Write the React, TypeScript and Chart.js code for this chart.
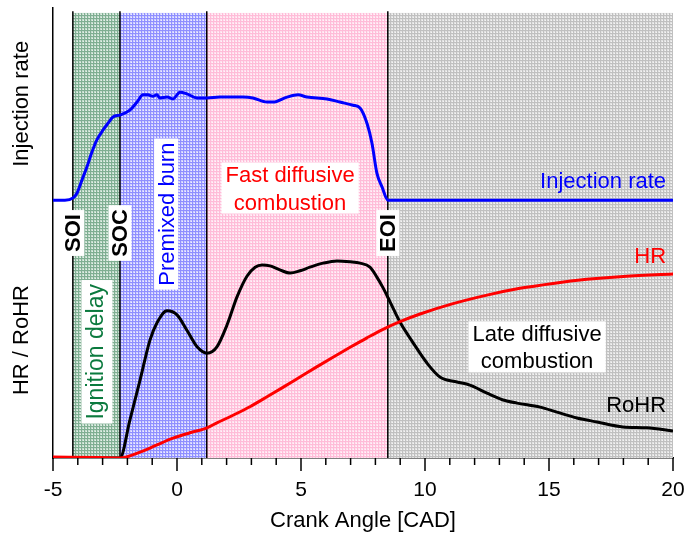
import React, { useEffect, useRef } from 'react';
import { Chart, registerables } from 'chart.js';

Chart.register(...registerables);

// ---- data -----------------------------------------------------------------
// crank angle range and tick spacing
const xMin = -5;
const xMax = 20;
const xMajorStep = 5;
const xMinorStep = 1;

// combustion phase boundaries [CAD]: SOI, SOC, end of premixed burn, EOI, end
const phaseBounds = [-4.2, -2.3, 1.2, 8.5, 20];
// event lines drawn as vertical markers
const eventCad = [-4.2, -2.3, 1.2, 8.5];

// injection rate (arbitrary units)
const injCad = [
  -5.0, -4.52, -4.19, -4.03, -3.83, -3.63, -3.43, -3.23, -2.98, -2.78, -2.58, -2.3, -1.9, -1.61,
  -1.37, -1.17, -0.97, -0.81, -0.69, -0.4, -0.16, 0.12, 0.4, 0.81, 1.21, 1.73, 2.66, 3.06, 3.63,
  3.87, 4.44, 4.88, 5.24, 6.05, 6.57, 7.1, 7.38, 7.66, 7.86, 8.06, 8.27, 8.51, 20.0,
];
const injRate = [
  57.3, 57.3, 57.8, 58.9, 61.8, 64.7, 68.0, 70.7, 72.9, 74.4, 75.8, 76.2, 77.3, 79.1,
  80.7, 80.7, 80.4, 80.7, 80.0, 80.2, 79.8, 81.3, 80.9, 80.0, 80.0, 80.2, 80.2, 80.0, 79.1,
  79.1, 80.2, 80.7, 80.2, 79.8, 79.1, 78.4, 77.8, 74.4, 70.0, 63.3, 60.2, 57.3, 57.3,
];

// rate of heat release (arbitrary units)
const rohrCad = [
  -5.0, -2.3, -1.9, -1.49, -1.09, -0.81, -0.4, 0.0, 0.4, 0.81, 1.21, 1.61, 2.02, 2.42, 2.82,
  3.15, 3.43, 3.75, 4.15, 4.56, 4.96, 5.36, 5.89, 6.45, 6.98, 7.38, 7.78, 8.06, 8.31, 8.59,
  8.99, 9.52, 10.08, 10.6, 11.29, 11.81, 12.5, 13.15, 13.71, 14.64, 15.32, 16.13, 16.94,
  17.98, 18.95, 20.0,
];
const rohrVal = [
  0, 0, 8.4, 17.3, 26.2, 30.0, 32.7, 31.8, 28.4, 24.7, 23.3, 24.7, 29.6, 35.8, 40.4,
  42.4, 42.9, 42.7, 41.8, 41.1, 41.6, 42.4, 43.3, 43.8, 43.6, 43.3, 42.4, 40.2, 37.8, 34.7,
  30.2, 25.6, 21.1, 18.0, 16.9, 16.2, 14.4, 12.9, 12.2, 11.3, 10.2, 8.9, 8.0,
  6.9, 6.7, 6.0,
];

// cumulative heat release (arbitrary units)
const hrCad = [
  -5.0, -3.1, -2.3, -1.49, -0.81, -0.16, 0.52, 1.21, 1.61, 2.26, 2.94, 3.63, 4.27, 4.96,
  5.65, 6.29, 6.98, 7.66, 8.31, 8.99, 9.8, 11.13, 12.5, 13.83, 15.16, 16.53, 17.86, 20.0,
];
const hrVal = [
  0.2, 0.1, 0.0, 1.3, 2.9, 4.4, 5.6, 6.7, 7.8, 9.5, 11.4, 13.6, 15.7, 18.0,
  20.3, 22.4, 24.6, 26.7, 28.6, 30.3, 32.0, 34.3, 36.2, 37.7, 38.8, 39.7, 40.3, 40.9,
];

// ---- styling ----------------------------------------------------------------
const FONT = '"Liberation Sans", Arial, Helvetica, sans-serif';
const TEXT_SIZE = 22;
const TICK_SIZE = 21;

const shadeTop = 98.9;
const eventLineTop = 99.3;

const phaseFills = [
  { bg: '#c4ddcd', fg: '#7fae92', dot: '#e6f0ea' },
  { bg: '#cfcfff', fg: '#8f8fff', dot: '#eeeeff' },
  { bg: '#ffe0ee', fg: '#ffbcd8', dot: '#fff4f9' },
  { bg: '#e2e2e2', fg: '#c0c0c0', dot: '#f4f4f4' },
];

type Label = {
  lines: string[];
  cad: number;
  val: number;
  color: string;
  bold?: boolean;
  rotate?: boolean;
  box?: boolean;
  size?: number;
};

const phaseLabels: Label[] = [
  { lines: ['SOI'], cad: -4.2, val: 50, color: '#000', bold: true, rotate: true, box: true },
  { lines: ['SOC'], cad: -2.3, val: 50, color: '#000', bold: true, rotate: true, box: true },
  { lines: ['EOI'], cad: 8.5, val: 50, color: '#000', bold: true, rotate: true, box: true },
  { lines: ['Ignition delay'], cad: -3.23, val: 23.6, color: '#0b7a3e', rotate: true, box: true, size: 23 },
  { lines: ['Premixed burn'], cad: -0.44, val: 54.2, color: '#0000ff', rotate: true, box: true },
  { lines: ['Fast diffusive', 'combustion'], cad: 4.56, val: 60, color: '#ff0000', box: true },
  { lines: ['Late diffusive', 'combustion'], cad: 14.52, val: 24.7, color: '#000', box: true },
];

const seriesLabels = [
  { text: 'Injection rate', val: 61.3, color: '#0000ff' },
  { text: 'HR', val: 44.7, color: '#ff0000' },
  { text: 'RoHR', val: 11.6, color: '#000' },
];
const seriesLabelCad = 19.72;

const axisTitles = [
  { text: 'Injection rate', val: 78.7 },
  { text: 'HR / RoHR', val: 26.2 },
];

function drawLabel(
  ctx: CanvasRenderingContext2D,
  lab: Label,
  cx: number,
  cy: number
) {
  const size = lab.size ?? TEXT_SIZE;
  ctx.save();
  ctx.font = `${lab.bold ? 'bold ' : ''}${size}px ${FONT}`;
  ctx.translate(cx, cy);
  if (lab.rotate) ctx.rotate(-Math.PI / 2);
  const gap = size * 1.23;
  const metrics = lab.lines.map((l) => ctx.measureText(l));
  const maxW = Math.max(...metrics.map((m) => m.width));
  const asc = metrics[0].actualBoundingBoxAscent;
  const desc = metrics[metrics.length - 1].actualBoundingBoxDescent;
  const total = asc + (lab.lines.length - 1) * gap + desc;
  const top = -total / 2;
  if (lab.box) {
    const padX = 4;
    const padY = 4;
    ctx.fillStyle = '#ffffff';
    ctx.fillRect(-maxW / 2 - padX, top - padY, maxW + 2 * padX, total + 2 * padY);
  }
  ctx.fillStyle = lab.color;
  ctx.textAlign = 'center';
  ctx.textBaseline = 'alphabetic';
  lab.lines.forEach((l, i) => {
    ctx.fillText(l, 0, top + asc + i * gap);
  });
  ctx.restore();
}

const phasePlugin = {
  id: 'combustionPhases',
  beforeDatasetsDraw(chart: any) {
    const { ctx, scales } = chart;
    const x = scales.x;
    const y = scales.y;
    const yTop = y.getPixelForValue(shadeTop);
    const yBot = y.getPixelForValue(0);
    ctx.save();
    for (let i = 0; i < phaseBounds.length - 1; i++) {
      const fill = phaseFills[i];
      const tile = document.createElement('canvas');
      tile.width = 3;
      tile.height = 3;
      const g = tile.getContext('2d')!;
      g.fillStyle = fill.bg;
      g.fillRect(0, 0, 3, 3);
      g.fillStyle = fill.fg;
      g.fillRect(0, 0, 3, 1);
      g.fillRect(0, 0, 1, 3);
      g.fillStyle = fill.dot;
      g.fillRect(2, 2, 1, 1);
      const pattern = ctx.createPattern(tile, 'repeat');
      const x0 = x.getPixelForValue(phaseBounds[i]);
      const x1 = x.getPixelForValue(phaseBounds[i + 1]);
      ctx.fillStyle = pattern;
      ctx.fillRect(x0, yTop, x1 - x0, yBot - yTop);
    }
    // event markers
    ctx.strokeStyle = '#000';
    ctx.lineWidth = 1.5;
    const lt = y.getPixelForValue(eventLineTop);
    for (const c of eventCad) {
      const px = x.getPixelForValue(c);
      ctx.beginPath();
      ctx.moveTo(px, lt);
      ctx.lineTo(px, yBot);
      ctx.stroke();
    }
    ctx.restore();
  },
  afterDatasetsDraw(chart: any) {
    const { ctx, scales } = chart;
    const x = scales.x;
    const y = scales.y;
    for (const lab of phaseLabels) {
      drawLabel(ctx, lab, x.getPixelForValue(lab.cad), y.getPixelForValue(lab.val));
    }
    ctx.save();
    ctx.font = `${TEXT_SIZE}px ${FONT}`;
    ctx.textAlign = 'right';
    ctx.textBaseline = 'middle';
    const rx = x.getPixelForValue(seriesLabelCad);
    for (const s of seriesLabels) {
      ctx.fillStyle = s.color;
      ctx.fillText(s.text, rx, y.getPixelForValue(s.val));
    }
    ctx.restore();
  },
  afterDraw(chart: any) {
    const { ctx, scales, chartArea } = chart;
    const x = scales.x;
    const y = scales.y;
    // major and minor tick marks on the crank-angle axis
    ctx.save();
    ctx.strokeStyle = '#000';
    ctx.lineWidth = 1.5;
    for (let v = xMin; v <= xMax + 1e-9; v += xMinorStep) {
      const px = x.getPixelForValue(v);
      const major = Math.abs(v / xMajorStep - Math.round(v / xMajorStep)) < 1e-9;
      const len = major ? 13 : 7;
      ctx.beginPath();
      ctx.moveTo(px, chartArea.bottom);
      ctx.lineTo(px, chartArea.bottom + len);
      ctx.stroke();
    }
    // split y-axis titles
    ctx.font = `${TEXT_SIZE}px ${FONT}`;
    ctx.fillStyle = '#000';
    ctx.textAlign = 'center';
    ctx.textBaseline = 'middle';
    for (const t of axisTitles) {
      ctx.save();
      ctx.translate(22, y.getPixelForValue(t.val));
      ctx.rotate(-Math.PI / 2);
      ctx.fillText(t.text, 0, 0);
      ctx.restore();
    }
    ctx.restore();
  },
};

const toPoints = (xs: number[], ys: number[]) => xs.map((v, i) => ({ x: v, y: ys[i] }));

export default function App() {
  const ref = useRef<HTMLCanvasElement | null>(null);

  useEffect(() => {
    const canvas = ref.current;
    if (!canvas) return;
    const chart = new Chart(canvas, {
      type: 'line',
      data: {
        datasets: [
          {
            label: 'HR',
            data: toPoints(hrCad, hrVal),
            borderColor: '#ff0000',
            borderWidth: 3,
            pointRadius: 0,
            cubicInterpolationMode: 'monotone',
          },
          {
            label: 'RoHR',
            data: toPoints(rohrCad, rohrVal),
            borderColor: '#000000',
            borderWidth: 3,
            pointRadius: 0,
            cubicInterpolationMode: 'monotone',
          },
          {
            label: 'Injection rate',
            data: toPoints(injCad, injRate),
            borderColor: '#0000ff',
            borderWidth: 3,
            pointRadius: 0,
            cubicInterpolationMode: 'monotone',
          },
        ],
      },
      options: {
        animation: false,
        responsive: false,
        maintainAspectRatio: false,
        events: [],
        layout: { padding: { top: 8, right: 16, left: 0, bottom: 0 } },
        plugins: {
          legend: { display: false },
          tooltip: { enabled: false },
        },
        scales: {
          x: {
            type: 'linear',
            min: xMin,
            max: xMax,
            ticks: {
              stepSize: xMajorStep,
              padding: 20,
              color: '#000',
              maxRotation: 0,
              autoSkip: false,
              font: { family: FONT, size: TICK_SIZE },
            },
            grid: { drawOnChartArea: false, drawTicks: false },
            border: { display: true, color: '#000', width: 1.5 },
            title: {
              display: true,
              text: 'Crank Angle [CAD]',
              color: '#000',
              font: { family: FONT, size: TEXT_SIZE },
              padding: { top: 0, bottom: 2 },
            },
            afterFit: (s: any) => {
              s.height = 78;
              s.paddingLeft = 0;
              s.paddingRight = 0;
            },
          },
          y: {
            type: 'linear',
            min: 0,
            max: 100,
            ticks: { display: false },
            grid: { drawOnChartArea: false, drawTicks: false },
            border: { display: true, color: '#000', width: 1.5 },
            afterFit: (s: any) => {
              s.width = 53;
            },
          },
        },
      },
      plugins: [phasePlugin],
    } as any);
    return () => chart.destroy();
  }, []);

  return (
    <div style={{ position: 'fixed', left: 0, top: 0, width: 689, height: 536, background: '#fff' }}>
      <canvas ref={ref} width={689} height={536} style={{ display: 'block', width: 689, height: 536 }} />
    </div>
  );
}
